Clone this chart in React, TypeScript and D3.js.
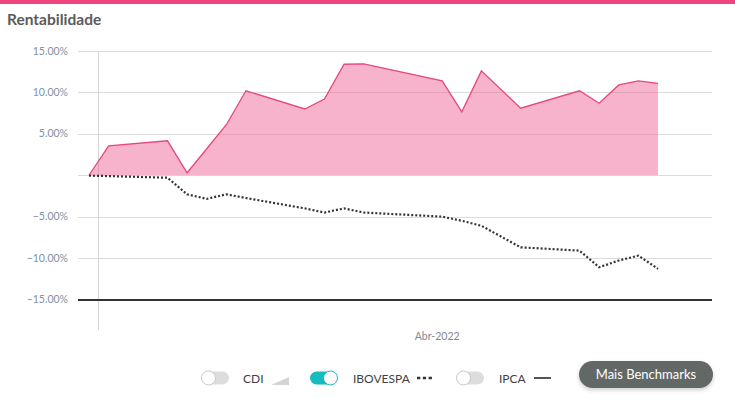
import React, { useEffect, useRef } from 'react';
import * as d3 from 'd3';

const DATES = [
  '2022-03-14', '2022-03-15', '2022-03-18', '2022-03-19', '2022-03-20',
  '2022-03-21', '2022-03-22', '2022-03-25', '2022-03-26', '2022-03-27',
  '2022-03-28', '2022-04-01', '2022-04-02', '2022-04-03', '2022-04-05',
  '2022-04-08', '2022-04-09', '2022-04-10', '2022-04-11', '2022-04-12',
];
const FUND = [0, 3.55, 4.16, 0.3, 3.2, 6.1, 10.2, 8.0, 9.2, 13.4, 13.45, 11.4, 7.65, 12.6, 8.1, 10.2, 8.7, 10.9, 11.4, 11.1];
const IBOV = [-0.05, -0.1, -0.3, -2.3, -2.85, -2.3, -2.75, -4.0, -4.5, -4.0, -4.5, -5.0, -5.5, -6.1, -8.7, -9.1, -11.1, -10.3, -9.7, -11.3];
const Y_TICKS = [15, 10, 5, 0, -5, -10, -15];
const X_TICKS = ['2022-04-01'];

const W = 735;
const H = 399;

const App = () => {
  const svgRef = useRef<SVGSVGElement>(null);

  useEffect(() => {
    const svg = d3.select(svgRef.current);
    svg.selectAll('*').remove();

    const parse = d3.timeParse('%Y-%m-%d');
    const data = DATES.map((d, i) => ({ date: parse(d)!, fund: FUND[i], ibov: IBOV[i] }));

    const x = d3.scaleTime()
      .domain(d3.extent(data, d => d.date) as [Date, Date])
      .range([89, 658]);
    const y = d3.scaleLinear().domain([-15, 15]).range([299.5, 51]);

    // top band + title
    svg.append('rect').attr('x', 0).attr('y', 0).attr('width', W).attr('height', 4).attr('fill', '#ee4580');
    svg.append('text').attr('x', 7).attr('y', 25)
      .attr('font-family', 'Lato').attr('font-weight', 'bold').attr('font-size', 15.5)
      .attr('fill', '#5b5b5b').text('Rentabilidade');

    // grid
    const grid = svg.append('g');
    Y_TICKS.filter(t => t !== -15).forEach(t => {
      grid.append('line').attr('x1', 78).attr('x2', 712)
        .attr('y1', Math.round(y(t)) + 0.5).attr('y2', Math.round(y(t)) + 0.5)
        .attr('stroke', '#dcdcdc').attr('stroke-width', 1);
    });
    grid.append('line').attr('x1', 98.5).attr('x2', 98.5).attr('y1', 51).attr('y2', 330)
      .attr('stroke', '#d6d6d6');

    Y_TICKS.filter(t => t !== 0).forEach(t => {
      svg.append('text').attr('x', 68).attr('y', y(t) + 3.5)
        .attr('text-anchor', 'end').attr('font-family', 'Lato').attr('font-size', 10.5)
        .attr('fill', '#8092a6').text(d3.format('.2f')(t) + '%');
    });

    // fund area
    const area = d3.area<any>().x(d => x(d.date)).y0(y(0)).y1(d => y(d.fund));
    const line = d3.line<any>().x(d => x(d.date)).y(d => y(d.fund));
    svg.append('path').datum(data).attr('d', area).attr('fill', '#f1679a').attr('fill-opacity', 0.5);
    svg.append('path').datum(data).attr('d', line).attr('fill', 'none')
      .attr('stroke', '#e8477d').attr('stroke-width', 1.3);

    // ibovespa
    const ibovLine = d3.line<any>().x(d => x(d.date)).y(d => y(d.ibov));
    svg.append('path').datum(data).attr('d', ibovLine).attr('fill', 'none')
      .attr('stroke', '#333').attr('stroke-width', 2.2).attr('stroke-dasharray', '2,2');

    // -15 baseline
    svg.append('line').attr('x1', 78).attr('x2', 712).attr('y1', 300).attr('y2', 300)
      .attr('stroke', '#333').attr('stroke-width', 2);

    X_TICKS.forEach(t => {
      svg.append('text').attr('x', x(parse(t)!) - 5).attr('y', 340)
        .attr('text-anchor', 'middle').attr('font-family', 'Lato').attr('font-size', 10.5)
        .attr('fill', '#7f8893').text(d3.timeFormat('Abr-%Y')(parse(t)!));
    });

    // legend
    const lg = svg.append('g');
    const toggle = (x0: number, on: boolean) => {
      lg.append('rect').attr('x', x0).attr('y', 371.5).attr('width', 27).attr('height', 13).attr('rx', 6.5)
        .attr('fill', on ? '#17bcbf' : '#dddddd');
      lg.append('circle').attr('cx', on ? x0 + 20.5 : x0 + 6.5).attr('cy', 378).attr('r', 7)
        .attr('fill', '#fff').attr('stroke', on ? '#17bcbf' : '#c9c9c9').attr('stroke-width', 1);
    };
    const label = (x0: number, s: string) => {
      lg.append('text').attr('x', x0).attr('y', 382.5).attr('font-family', 'Lato').attr('font-size', 12)
        .attr('fill', '#3f3f48').text(s);
    };
    toggle(202, false);
    label(243, 'CDI');
    lg.append('path').attr('d', 'M271,385L289,385L289,377Z').attr('fill', '#d4d4d4');
    toggle(310, true);
    label(353, 'IBOVESPA');
    lg.append('line').attr('x1', 417).attr('x2', 432).attr('y1', 378).attr('y2', 378)
      .attr('stroke', '#333').attr('stroke-width', 2.5).attr('stroke-dasharray', '3.3,2.5');
    toggle(457, false);
    label(499, 'IPCA');
    lg.append('line').attr('x1', 534).attr('x2', 551).attr('y1', 378).attr('y2', 378)
      .attr('stroke', '#555').attr('stroke-width', 2);

    // button
    const defs = svg.append('defs');
    const f = defs.append('filter').attr('id', 'shadow').attr('x', '-20%').attr('y', '-30%').attr('width', '140%').attr('height', '180%');
    f.append('feDropShadow').attr('dx', 0).attr('dy', 2).attr('stdDeviation', 2).attr('flood-color', '#000').attr('flood-opacity', 0.2);
    svg.append('rect').attr('x', 579).attr('y', 361).attr('width', 134).attr('height', 27).attr('rx', 13.5)
      .attr('fill', '#626866').attr('filter', 'url(#shadow)');
    svg.append('text').attr('x', 646).attr('y', 379).attr('text-anchor', 'middle')
      .attr('font-family', 'Lato').attr('font-size', 13).attr('fill', '#fff').text('Mais Benchmarks');
  }, []);

  return (
    <svg ref={svgRef} width={W} height={H}
      style={{ position: 'absolute', left: 0, top: 0, background: '#fff' }} />
  );
};

export default App;
